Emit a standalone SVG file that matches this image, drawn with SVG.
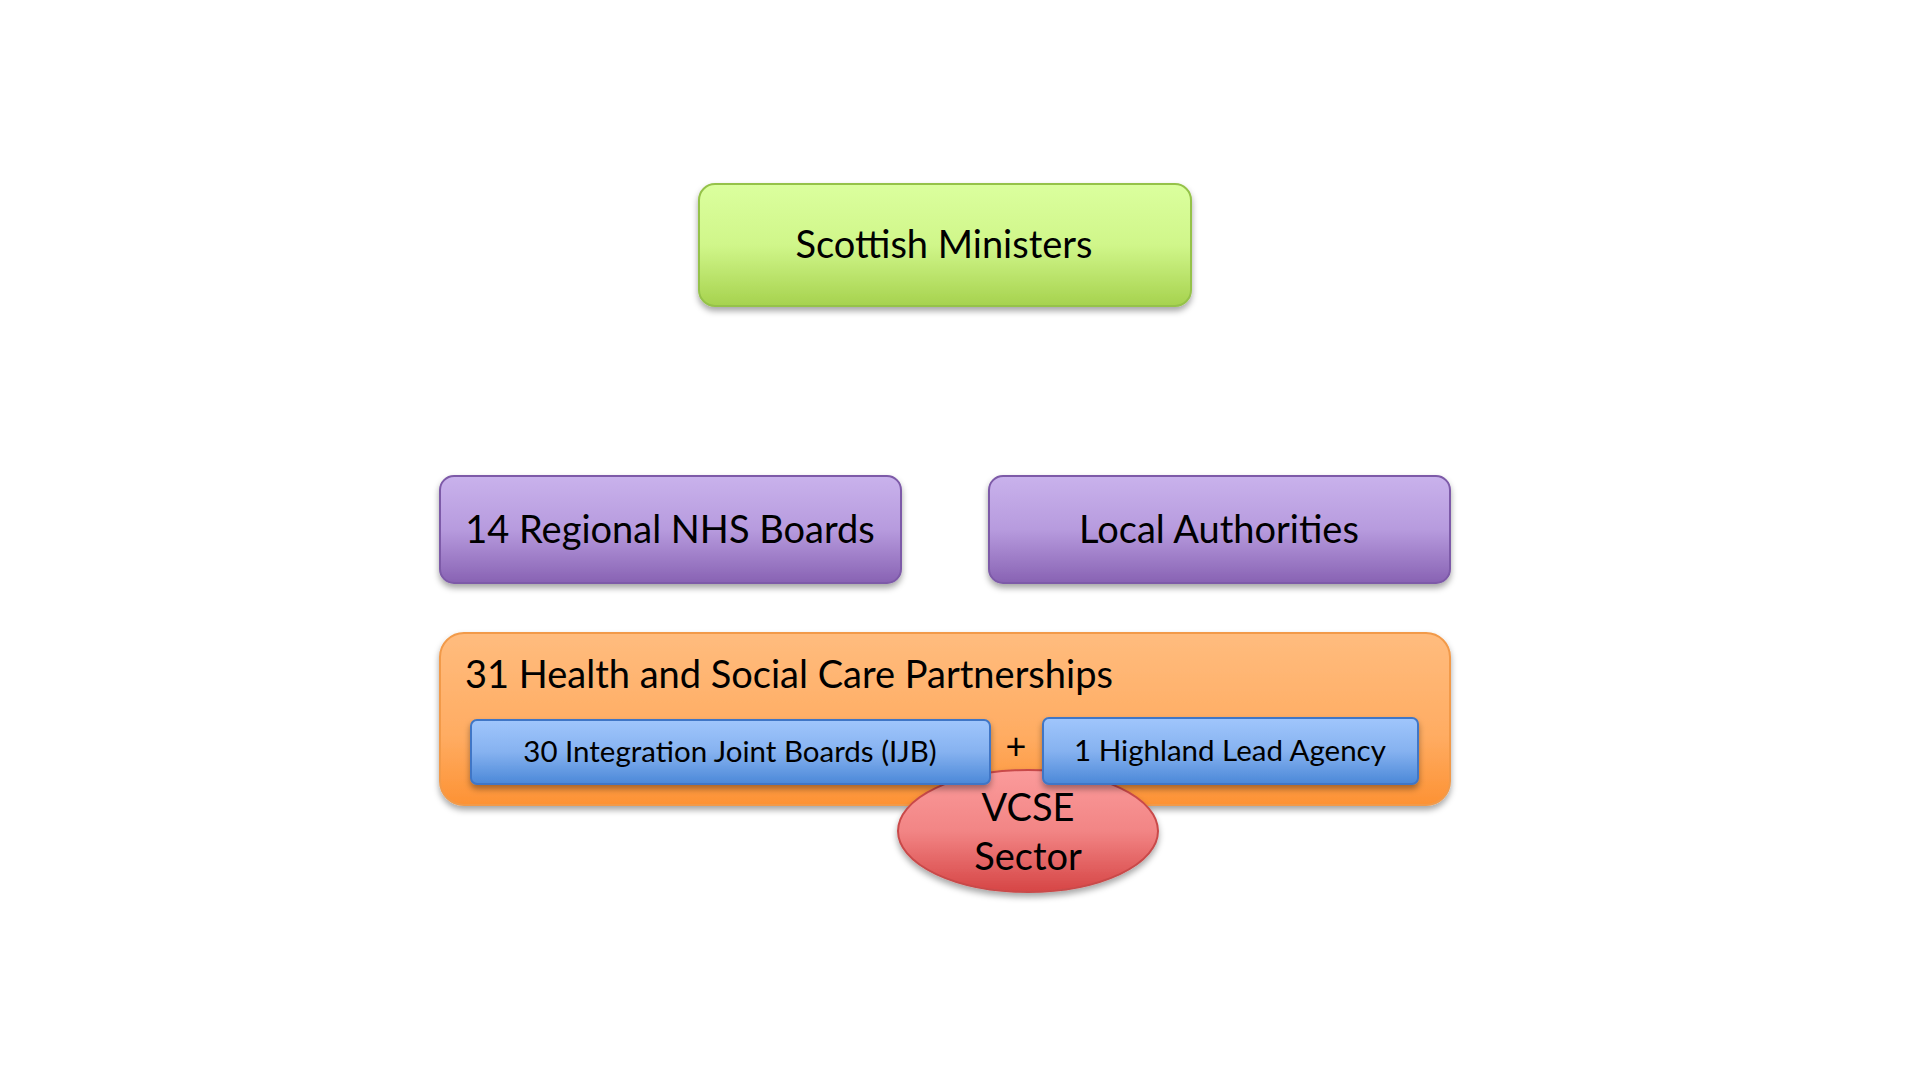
<svg xmlns="http://www.w3.org/2000/svg" width="1920" height="1080" viewBox="0 0 1920 1080">
<style>
.t{font-family:Lato,"Open Sans","Liberation Sans",sans-serif;fill:#000}
.big{font-size:38px}
.mid{font-size:29.5px}
</style>
<defs>
<linearGradient id="gGreen" x1="0" y1="0" x2="0" y2="1"><stop offset="0" stop-color="#dbff9e"/><stop offset="0.5" stop-color="#d0f68a"/><stop offset="1" stop-color="#a6d24e"/></linearGradient>
<linearGradient id="gPurple" x1="0" y1="0" x2="0" y2="1"><stop offset="0" stop-color="#c9b2ec"/><stop offset="0.5" stop-color="#b79bde"/><stop offset="1" stop-color="#8862b3"/></linearGradient>
<linearGradient id="gOrange" x1="0" y1="0" x2="0" y2="1"><stop offset="0" stop-color="#ffbc7e"/><stop offset="0.6" stop-color="#ffac62"/><stop offset="1" stop-color="#fd9234"/></linearGradient>
<linearGradient id="gBlue" x1="0" y1="0" x2="0" y2="1"><stop offset="0" stop-color="#a0c6fc"/><stop offset="0.5" stop-color="#86b2f0"/><stop offset="1" stop-color="#4b88d8"/></linearGradient>
<linearGradient id="gRed" x1="0" y1="0" x2="0" y2="1"><stop offset="0" stop-color="#fb9b9b"/><stop offset="0.5" stop-color="#f28585"/><stop offset="1" stop-color="#d64545"/></linearGradient>
<filter id="sh" x="-10%" y="-20%" width="120%" height="150%"><feDropShadow dx="0" dy="4" stdDeviation="3" flood-color="#000" flood-opacity="0.35"/></filter>
</defs>
<rect width="1920" height="1080" fill="#fff"/>
<g id="connectors"></g>
<g id="scottish-ministers">
<rect x="699" y="184" width="492" height="122" rx="16" fill="url(#gGreen)" stroke="#95c24a" stroke-width="2" filter="url(#sh)"/>
<text class="t big" x="944" y="258" text-anchor="middle">Scottish Ministers</text>
</g>
<g id="nhs-boards">
<rect x="440" y="476" width="461" height="107" rx="14" fill="url(#gPurple)" stroke="#7d5aa8" stroke-width="2" filter="url(#sh)"/>
<text class="t big" x="670" y="543" text-anchor="middle">14 Regional NHS Boards</text>
</g>
<g id="local-authorities">
<rect x="989" y="476" width="461" height="107" rx="14" fill="url(#gPurple)" stroke="#7d5aa8" stroke-width="2" filter="url(#sh)"/>
<text class="t big" x="1219" y="543" text-anchor="middle">Local Authorities</text>
</g>
<g id="hscp">
<rect x="440" y="633" width="1010" height="172" rx="24" fill="url(#gOrange)" stroke="#f29a4a" stroke-width="2" filter="url(#sh)"/>
<text class="t big" x="465" y="688">31 Health and Social Care Partnerships</text>
</g>
<g id="vcse">
<ellipse cx="1028" cy="831" rx="130" ry="61" fill="url(#gRed)" stroke="#c94a4a" stroke-width="2" filter="url(#sh)"/>
<text class="t big" x="1028" y="821" text-anchor="middle">VCSE</text>
<text class="t big" x="1028" y="870" text-anchor="middle">Sector</text>
</g>
<g id="ijb">
<rect x="471" y="720" width="519" height="64" rx="6" fill="url(#gBlue)" stroke="#3f76c6" stroke-width="2" filter="url(#sh)"/>
<text class="t mid" x="730" y="762" text-anchor="middle">30 Integration Joint Boards (IJB)</text>
</g>
<g id="plus">
<text class="t" style="font-size:36px" x="1016" y="759" text-anchor="middle">+</text>
</g>
<g id="highland">
<rect x="1043" y="718" width="375" height="66" rx="6" fill="url(#gBlue)" stroke="#3f76c6" stroke-width="2" filter="url(#sh)"/>
<text class="t mid" x="1230" y="761" text-anchor="middle">1 Highland Lead Agency</text>
</g>
</svg>
